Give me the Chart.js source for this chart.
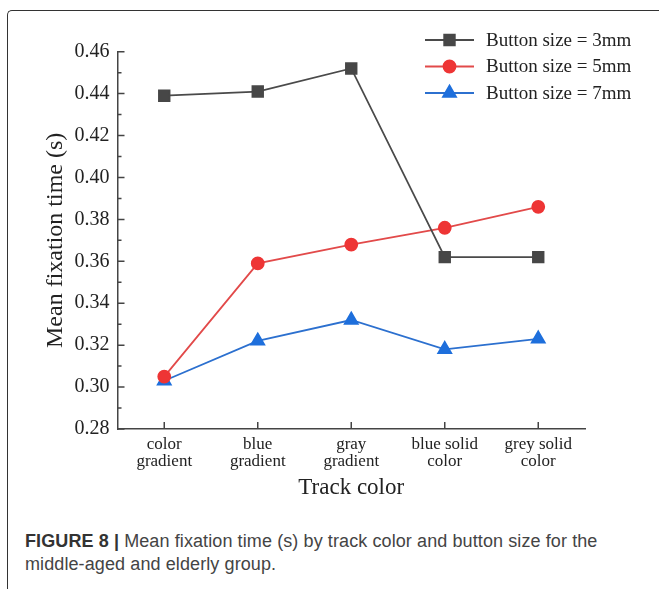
<!DOCTYPE html>
<html>
<head>
<meta charset="utf-8">
<script src="https://cdn.jsdelivr.net/npm/chart.js@4"></script>
<style>
  html, body { margin: 0; padding: 0; background: #fff; overflow: hidden; }
  body { width: 659px; height: 589px; position: relative; }
  .frame {
    position: absolute; left: 7px; top: 10px; width: 700px; height: 640px;
    border-top: 1.5px solid #333; border-left: 1.5px solid #333;
    border-top-left-radius: 5px;
  }
  #chart { position: absolute; left: 0; top: 0; }
  .caption {
    position: absolute; left: 25px; top: 530px; width: 600px;
    font-family: "Liberation Sans", Arial, sans-serif; font-size: 18px; line-height: 23px;
    letter-spacing: 0.1px; color: #444;
  }
  .caption b { color: #333; }
</style>
</head>
<body>
<div class="frame"></div>
<canvas id="chart" width="659" height="520"></canvas>
<div class="caption"><b>FIGURE 8 |</b> Mean fixation time (s) by track color and button size for the <span style="white-space:nowrap">middle-aged</span> and elderly group.</div>
<script>
// values
const categories = [['color', 'gradient'], ['blue', 'gradient'], ['gray', 'gradient'], ['blue solid', 'color'], ['grey solid', 'color']];
const size3mm = [0.439, 0.441, 0.452, 0.362, 0.362];
const size5mm = [0.305, 0.359, 0.368, 0.376, 0.386];
const size7mm = [0.303, 0.322, 0.332, 0.318, 0.323];
const yTicks = [0.28, 0.30, 0.32, 0.34, 0.36, 0.38, 0.40, 0.42, 0.44, 0.46];

const serif = '"Liberation Serif", "Times New Roman", serif';
const axisColor = '#444';

// inward tick marks like the original plot
const innerTicks = {
  id: 'innerTicks',
  afterDraw(chart) {
    const ctx = chart.ctx;
    const x = chart.scales.x, y = chart.scales.y;
    const left = chart.chartArea.left, bottom = chart.chartArea.bottom;
    ctx.save();
    ctx.strokeStyle = axisColor;
    ctx.lineWidth = 1.5;
    ctx.beginPath();
    yTicks.forEach((v, i) => {
      const py = y.getPixelForValue(v);
      ctx.moveTo(left, py); ctx.lineTo(left + 7, py);
      if (i < yTicks.length - 1) {
        const pm = y.getPixelForValue((v + yTicks[i + 1]) / 2);
        ctx.moveTo(left, pm); ctx.lineTo(left + 4, pm);
      }
    });
    categories.forEach((c, i) => {
      const px = x.getPixelForValue(i);
      ctx.moveTo(px, bottom); ctx.lineTo(px, bottom - 7);
    });
    ctx.stroke();
    ctx.restore();
  }
};

// legend with line + marker, top right inside the plot
const lineLegend = {
  id: 'lineLegend',
  afterDraw(chart) {
    const ctx = chart.ctx;
    ctx.save();
    chart.data.datasets.forEach((ds, i) => {
      const yy = 40 + i * 26.5;
      ctx.strokeStyle = ds.borderColor;
      ctx.lineWidth = ds.borderWidth;
      ctx.beginPath();
      ctx.moveTo(425, yy); ctx.lineTo(474, yy);
      ctx.stroke();
      ctx.fillStyle = ds.pointBackgroundColor;
      ctx.strokeStyle = ds.pointBackgroundColor;
      Chart.helpers.drawPoint(ctx, { pointStyle: ds.pointStyle, radius: ds.pointRadius, borderWidth: 1 }, 449.5, yy);
      ctx.fillStyle = '#222';
      ctx.font = '19px ' + serif;
      ctx.textBaseline = 'middle';
      ctx.fillText(ds.label, 486, yy + 1);
    });
    ctx.restore();
  }
};

new Chart(document.getElementById('chart'), {
  type: 'line',
  data: {
    labels: categories,
    datasets: [
      { label: 'Button size = 3mm', data: size3mm, borderColor: '#4a4a4a', pointBackgroundColor: '#474747', pointBorderColor: '#474747',
        pointStyle: 'rect', pointRadius: 7.5, borderWidth: 1.8 },
      { label: 'Button size = 5mm', data: size5mm, borderColor: '#e24a4a', pointBackgroundColor: '#ee3535', pointBorderColor: '#ee3535',
        pointStyle: 'circle', pointRadius: 6, borderWidth: 1.8 },
      { label: 'Button size = 7mm', data: size7mm, borderColor: '#2c70cf', pointBackgroundColor: '#1e6fdc', pointBorderColor: '#1e6fdc',
        pointStyle: 'triangle', pointRadius: 7.5, borderWidth: 1.8 }
    ]
  },
  options: {
    responsive: false,
    animation: false,
    devicePixelRatio: 1,
    layout: { padding: { left: 0, top: 51.7, right: 74, bottom: 0 } },
    plugins: { legend: { display: false }, tooltip: { enabled: false } },
    scales: {
      x: {
        offset: true,
        grid: { display: false, drawTicks: false },
        border: { display: true, color: axisColor, width: 1.5 },
        ticks: { color: '#222', padding: 7, maxRotation: 0, font: { family: serif, size: 17, lineHeight: 1.0 } },
        title: { display: true, text: 'Track color', color: '#222', padding: { top: 0, bottom: 18 }, font: { family: serif, size: 23 } },
        afterFit(scale) { scale.height = 91; }
      },
      y: {
        min: 0.28,
        max: 0.46,
        afterBuildTicks(scale) { scale.ticks = yTicks.map(v => ({ value: v })); },
        grid: { display: false, drawTicks: false },
        border: { display: true, color: axisColor, width: 1.5 },
        ticks: { color: '#222', padding: 8, font: { family: serif, size: 20 }, callback: v => v.toFixed(2) },
        title: { display: true, text: 'Mean fixation time (s)', color: '#222', padding: { top: 41, bottom: 0 }, font: { family: serif, size: 24 } },
        afterFit(scale) { scale.width = 117.5; }
      }
    }
  },
  plugins: [innerTicks, lineLegend]
});
</script>
</body>
</html>
